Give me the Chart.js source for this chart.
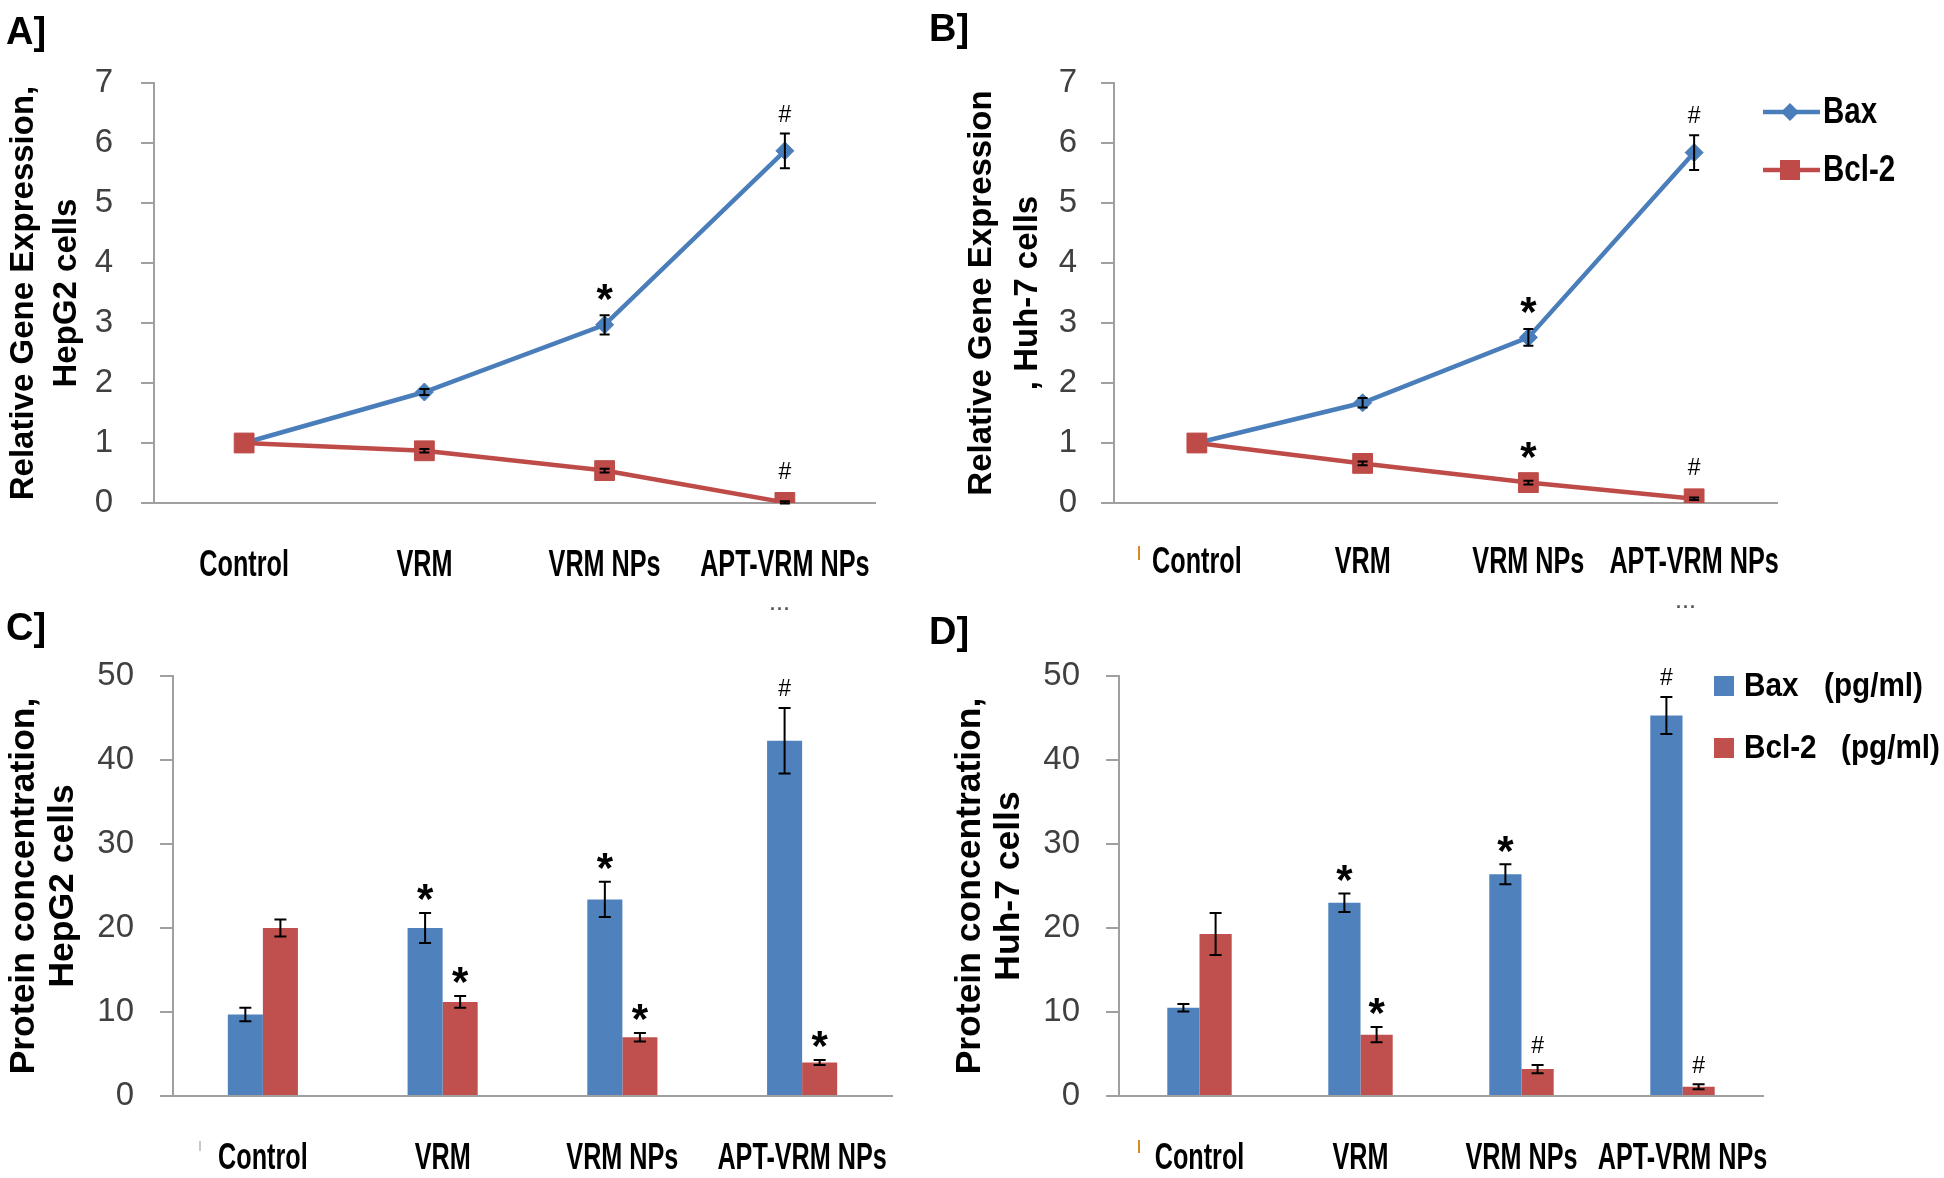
<!DOCTYPE html>
<html>
<head>
<meta charset="utf-8">
<script src="https://cdn.jsdelivr.net/npm/chart.js@4.4.1/dist/chart.umd.min.js"></script>
<style>
  body { margin: 0; background: #fff; width: 1944px; height: 1178px; position: relative; overflow: hidden; }
  canvas { position: absolute; }
  .panel { position: absolute; font: bold 38px 'Liberation Sans', Arial, sans-serif; color: #000; line-height: 1; }
  .dots { position: absolute; font: bold 18px 'Liberation Sans', Arial, sans-serif; color: #555; letter-spacing: 2px; }
  .tick { position: absolute; width: 2px; }
</style>
</head>
<body>
<canvas id="chartA" width="920" height="600" style="left:0;top:0"></canvas>
<canvas id="chartB" width="1024" height="600" style="left:920px;top:0"></canvas>
<canvas id="chartC" width="920" height="578" style="left:0;top:600px"></canvas>
<canvas id="chartD" width="1024" height="578" style="left:920px;top:600px"></canvas>
<div class="panel" style="left:6px;top:12px">A]</div>
<div class="panel" style="left:929px;top:9px">B]</div>
<div class="panel" style="left:6px;top:608px">C]</div>
<div class="panel" style="left:929px;top:612px">D]</div>
<div class="dots" style="left:770px;top:594px">...</div>
<div class="dots" style="left:1676px;top:592px">...</div>
<div class="tick" style="left:1138px;top:546px;height:14px;background:#d98a22"></div>
<div class="tick" style="left:1138px;top:1140px;height:13px;background:#d98a22"></div>
<div class="tick" style="left:199px;top:1141px;height:10px;background:#c8c8c8"></div>
<script>
const categories = ["Control", "VRM", "VRM NPs", "APT-VRM NPs"];
const geneTicks = [0, 1, 2, 3, 4, 5, 6, 7];
const proteinTicks = [0, 10, 20, 30, 40, 50];

// A] relative gene expression, HepG2
const baxGeneHepG2 = [1, 1.85, 2.97, 5.87];
const baxGeneHepG2Err = [0, 0.05, 0.16, 0.29];
const baxGeneHepG2Mark = ["", "", "*", "#"];
const bclGeneHepG2 = [1, 0.87, 0.54, 0.01];
const bclGeneHepG2Err = [0, 0.03, 0.03, 0.02];
const bclGeneHepG2Mark = ["", "", "", "#"];

// B] relative gene expression, Huh-7
const baxGeneHuh7 = [1, 1.67, 2.76, 5.84];
const baxGeneHuh7Err = [0, 0.08, 0.14, 0.29];
const baxGeneHuh7Mark = ["", "", "*", "#"];
const bclGeneHuh7 = [1, 0.66, 0.34, 0.07];
const bclGeneHuh7Err = [0, 0.03, 0.03, 0.02];
const bclGeneHuh7Mark = ["", "", "*", "#"];

// C] protein concentration, HepG2 (pg/ml)
const baxProtHepG2 = [9.7, 20.0, 23.4, 42.3];
const baxProtHepG2Err = [0.8, 1.8, 2.1, 3.9];
const baxProtHepG2Mark = ["", "*", "*", "#"];
const bclProtHepG2 = [20.0, 11.2, 7.0, 4.0];
const bclProtHepG2Err = [1.0, 0.7, 0.5, 0.3];
const bclProtHepG2Mark = ["", "*", "*", "*"];

// D] protein concentration, Huh-7 (pg/ml)
const baxProtHuh7 = [10.5, 23.0, 26.4, 45.3];
const baxProtHuh7Err = [0.45, 1.1, 1.2, 2.2];
const baxProtHuh7Mark = ["", "*", "*", "#"];
const bclProtHuh7 = [19.3, 7.3, 3.2, 1.1];
const bclProtHuh7Err = [2.5, 0.9, 0.5, 0.3];
const bclProtHuh7Mark = ["", "*", "#", "#"];

const BLUE_LINE = "#4A7EBB";
const RED_LINE = "#BE4B48";
const BLUE_BAR = "#4F81BD";
const RED_BAR = "#C0504D";
const AXIS = "#a0a0a0";
const plain = "'Liberation Sans', Arial, sans-serif";

function diamond(ctx, x, y, r) {
  ctx.beginPath();
  ctx.moveTo(x, y - r);
  ctx.lineTo(x + r, y);
  ctx.lineTo(x, y + r);
  ctx.lineTo(x - r, y);
  ctx.closePath();
  ctx.fill();
}

// condensed bold text (labels in the original are a narrow face)
function narrowText(ctx, text, x, y, size, squeeze, align) {
  ctx.save();
  ctx.translate(x, y);
  ctx.scale(squeeze, 1);
  ctx.font = "bold " + size + "px " + plain;
  ctx.fillStyle = "#000";
  ctx.textAlign = align || "center";
  ctx.textBaseline = "middle";
  ctx.fillText(text, 0, 0);
  ctx.restore();
}

function extras(cfg) {
  return {
    id: "extras",
    afterDatasetsDraw(chart) {
      const ctx = chart.ctx;
      const y = chart.scales.y;
      const x = chart.scales.x;
      ctx.save();
      chart.data.datasets.forEach((ds, i) => {
        const meta = chart.getDatasetMeta(i);
        meta.data.forEach((el, j) => {
          const v = ds.data[j];
          const e = ds.errors[j];
          const top = y.getPixelForValue(v + e);
          const bot = y.getPixelForValue(v - e);
          if (e > 0) {
            ctx.strokeStyle = "#000";
            ctx.lineWidth = 2;
            ctx.beginPath();
            ctx.moveTo(el.x, top);
            ctx.lineTo(el.x, bot);
            ctx.moveTo(el.x - cfg.cap, top);
            ctx.lineTo(el.x + cfg.cap, top);
            ctx.moveTo(el.x - cfg.cap, bot);
            ctx.lineTo(el.x + cfg.cap, bot);
            ctx.stroke();
          }
          const mk = ds.marks[j];
          if (mk) {
            const base = Math.min(top, y.getPixelForValue(v) - cfg.lift);
            ctx.fillStyle = "#000";
            ctx.textAlign = "center";
            ctx.textBaseline = "alphabetic";
            if (mk === "*") {
              ctx.font = "bold 42px " + plain;
              ctx.fillText(mk, el.x, base - 24 + 0.58 * 42);
            } else {
              ctx.font = "23px " + plain;
              ctx.fillText(mk, el.x, base - 20 + 0.36 * 23);
            }
          }
        });
      });

      // category labels
      chart.data.labels.forEach((lab, i) => {
        narrowText(ctx, lab, x.getPixelForValue(i), chart.chartArea.bottom + cfg.labelDy, 36, 0.7);
      });

      // legend
      if (cfg.legend === "line") {
        const rows = [
          { label: "Bax", color: BLUE_LINE, y: 112, shape: "diamond" },
          { label: "Bcl-2", color: RED_LINE, y: 170, shape: "square" },
        ];
        rows.forEach((r) => {
          ctx.strokeStyle = r.color;
          ctx.fillStyle = r.color;
          ctx.lineWidth = 4.5;
          ctx.beginPath();
          ctx.moveTo(843, r.y);
          ctx.lineTo(900, r.y);
          ctx.stroke();
          if (r.shape === "diamond") diamond(ctx, 870, r.y, 9);
          else ctx.fillRect(860, r.y - 10, 20, 20);
          narrowText(ctx, r.label, 903, r.y + 1, 36, 0.82, "left");
        });
      } else if (cfg.legend === "bar") {
        const rows = [
          { label: "Bax", unitX: 904, color: BLUE_BAR, y: 86 },
          { label: "Bcl-2", unitX: 921, color: RED_BAR, y: 148 },
        ];
        rows.forEach((r) => {
          ctx.fillStyle = r.color;
          ctx.fillRect(794, r.y - 10, 20, 20);
          narrowText(ctx, r.label, 824, r.y + 1, 33, 0.9, "left");
          narrowText(ctx, "(pg/ml)", r.unitX, r.y + 1, 33, 0.9, "left");
        });
      }
      ctx.restore();
    },
  };
}

function buildChart(id, cfg) {
  const canvas = document.getElementById(id);
  const W = canvas.width;
  const H = canvas.height;
  const isLine = cfg.type === "line";
  const datasets = [
    {
      label: "Bax",
      data: cfg.bax,
      errors: cfg.baxErr,
      marks: cfg.baxMark,
      borderColor: isLine ? BLUE_LINE : BLUE_BAR,
      backgroundColor: isLine ? BLUE_LINE : BLUE_BAR,
    },
    {
      label: "Bcl-2",
      data: cfg.bcl,
      errors: cfg.bclErr,
      marks: cfg.bclMark,
      borderColor: isLine ? RED_LINE : RED_BAR,
      backgroundColor: isLine ? RED_LINE : RED_BAR,
    },
  ];
  if (isLine) {
    Object.assign(datasets[0], { borderWidth: 4.5, pointStyle: "rectRot", pointRadius: 9, pointBorderWidth: 1, tension: 0 });
    Object.assign(datasets[1], { borderWidth: 4.5, pointStyle: "rect", pointRadius: 14, pointBorderWidth: 1, tension: 0 });
    datasets.reverse(); // Bax drawn on top
  } else {
    datasets.forEach((d) => Object.assign(d, { barPercentage: 1, categoryPercentage: cfg.groupPct, borderWidth: 0 }));
  }

  return new Chart(canvas, {
    type: cfg.type,
    data: { labels: categories, datasets: datasets },
    options: {
      responsive: false,
      animation: false,
      layout: { padding: { left: 0, top: cfg.area.t, right: W - cfg.area.r, bottom: 0 } },
      plugins: { legend: { display: false }, tooltip: { enabled: false } },
      scales: {
        x: {
          offset: true,
          grid: { display: false },
          border: { display: true, color: AXIS, width: 2 },
          ticks: { display: false },
          afterFit: (s) => { s.height = H - cfg.area.b; },
        },
        y: {
          min: 0,
          max: cfg.ticks[cfg.ticks.length - 1],
          afterBuildTicks: (s) => { s.ticks = cfg.ticks.map((v) => ({ value: v })); },
          grid: { drawOnChartArea: false, tickLength: 13, color: AXIS, lineWidth: 2 },
          border: { color: AXIS, width: 2 },
          ticks: { color: "#404040", font: { family: plain, size: 33 }, padding: cfg.tickPad },
          title: {
            display: true,
            text: cfg.yTitle,
            color: "#000",
            font: { family: plain, size: cfg.titleSize, weight: "bold", lineHeight: cfg.titleLine + "px" },
            padding: { top: cfg.titlePad, bottom: 0 },
          },
          afterFit: (s) => { s.width = cfg.area.l; },
        },
      },
    },
    plugins: [extras(cfg)],
  });
}

buildChart("chartA", {
  type: "line",
  bax: baxGeneHepG2, baxErr: baxGeneHepG2Err, baxMark: baxGeneHepG2Mark,
  bcl: bclGeneHepG2, bclErr: bclGeneHepG2Err, bclMark: bclGeneHepG2Mark,
  ticks: geneTicks,
  area: { l: 154, r: 875, t: 83, b: 503 },
  yTitle: ["Relative Gene Expression,", "HepG2 cells"],
  titleSize: 33, titleLine: 43, titlePad: 2, tickPad: 28, labelDy: 63,
  cap: 5, lift: 12, legend: null,
});

buildChart("chartB", {
  type: "line",
  bax: baxGeneHuh7, baxErr: baxGeneHuh7Err, baxMark: baxGeneHuh7Mark,
  bcl: bclGeneHuh7, bclErr: bclGeneHuh7Err, bclMark: bclGeneHuh7Mark,
  ticks: geneTicks,
  area: { l: 194, r: 857, t: 83, b: 503 },
  yTitle: ["Relative Gene Expression", ", Huh-7 cells"],
  titleSize: 33, titleLine: 46, titlePad: 39, tickPad: 24, labelDy: 60,
  cap: 5, lift: 12, legend: "line",
});

buildChart("chartC", {
  type: "bar",
  bax: baxProtHepG2, baxErr: baxProtHepG2Err, baxMark: baxProtHepG2Mark,
  bcl: bclProtHepG2, bclErr: bclProtHepG2Err, bclMark: bclProtHepG2Mark,
  ticks: proteinTicks,
  area: { l: 173, r: 892, t: 76, b: 496 },
  yTitle: ["Protein concentration,", "HepG2 cells"],
  titleSize: 35.5, titleLine: 39, titlePad: 5, tickPad: 26, labelDy: 63, groupPct: 0.39,
  cap: 6, lift: 0, legend: null,
});

buildChart("chartD", {
  type: "bar",
  bax: baxProtHuh7, baxErr: baxProtHuh7Err, baxMark: baxProtHuh7Mark,
  bcl: bclProtHuh7, bclErr: bclProtHuh7Err, bclMark: bclProtHuh7Mark,
  ticks: proteinTicks,
  area: { l: 199, r: 843, t: 76, b: 496 },
  yTitle: ["Protein concentration,", "Huh-7 cells"],
  titleSize: 35.5, titleLine: 39, titlePad: 31, tickPad: 26, labelDy: 63, groupPct: 0.40,
  cap: 6, lift: 0, legend: "bar",
});
</script>
</body>
</html>
